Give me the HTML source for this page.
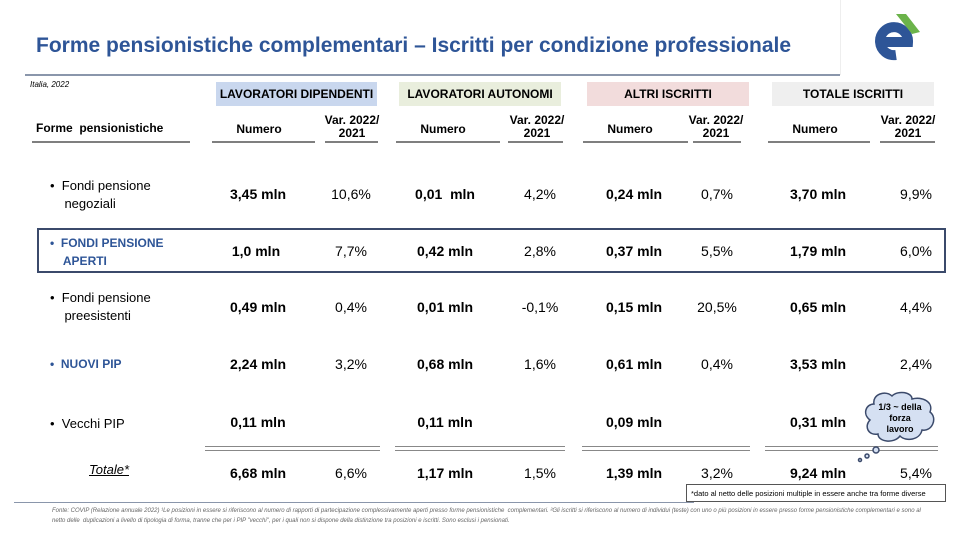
<!DOCTYPE html>
<html><head><meta charset="utf-8"><style>
*{margin:0;padding:0;box-sizing:border-box}
body{width:960px;height:540px;background:#fff;position:relative;overflow:hidden;font-family:"Liberation Sans",sans-serif;color:#000}
.a{position:absolute;white-space:nowrap}
.c{transform:translateX(-50%);text-align:center}
.h{font-weight:bold;font-size:12px;padding-top:5px;height:24px}
.sub{font-weight:bold;font-size:12px}
.ul{position:absolute;height:2px;background:#7f7f7f}
.b{font-weight:bold;font-size:14px}
.n{font-size:14px}
.lab{font-size:13px;line-height:18px}
.dl{position:absolute;height:5px;border-top:1.5px solid #888;border-bottom:1.5px solid #888}
</style></head><body>
<div class="a" style="left:36px;top:34px;font-size:21px;font-weight:bold;color:#2e5597">Forme pensionistiche complementari – Iscritti per condizione professionale</div>
<div class="a" style="left:25px;top:74px;width:815px;height:2px;background:#8a96ab"></div>
<div class="a" style="left:840px;top:0;width:1px;height:75px;background:#eee"></div>
<svg class="a" style="left:862px;top:10px" width="70" height="60" viewBox="0 0 70 60">
<path d="M34 45 A 14 14 0 1 1 46 32 L20 32" fill="none" stroke="#2e5597" stroke-width="10"/>
<polygon points="34,4 44,4 58,22 50,24" fill="#6bb34a"/>
</svg>
<div class="a" style="left:30px;top:80px;font-size:8px;font-style:italic">Italia, 2022</div>
<div class="a h" style="left:216px;top:82px;width:161px;background:#c9d7ee;text-align:center">LAVORATORI DIPENDENTI</div>
<div class="a h" style="left:399px;top:82px;width:162px;background:#e9eedd;text-align:center">LAVORATORI AUTONOMI</div>
<div class="a h" style="left:587px;top:82px;width:162px;background:#f2dcdc;text-align:center">ALTRI ISCRITTI</div>
<div class="a h" style="left:772px;top:82px;width:162px;background:#efefef;text-align:center">TOTALE ISCRITTI</div>

<div class="a sub" style="left:36px;top:121px">Forme&nbsp; pensionistiche</div>
<div class="ul" style="left:32px;top:141px;width:158px"></div>
<div class="a sub c" style="left:259px;top:122px">Numero</div><div class="ul" style="left:212px;top:141px;width:103px"></div>
<div class="a sub c" style="left:352px;top:114px;line-height:13px">Var. 2022/<br>2021</div><div class="ul" style="left:325px;top:141px;width:53px"></div>
<div class="a sub c" style="left:443px;top:122px">Numero</div><div class="ul" style="left:396px;top:141px;width:104px"></div>
<div class="a sub c" style="left:537px;top:114px;line-height:13px">Var. 2022/<br>2021</div><div class="ul" style="left:508px;top:141px;width:55px"></div>
<div class="a sub c" style="left:630px;top:122px">Numero</div><div class="ul" style="left:583px;top:141px;width:105px"></div>
<div class="a sub c" style="left:716px;top:114px;line-height:13px">Var. 2022/<br>2021</div><div class="ul" style="left:693px;top:141px;width:48px"></div>
<div class="a sub c" style="left:815px;top:122px">Numero</div><div class="ul" style="left:768px;top:141px;width:102px"></div>
<div class="a sub c" style="left:908px;top:114px;line-height:13px">Var. 2022/<br>2021</div><div class="ul" style="left:880px;top:141px;width:55px"></div>

<div class="a" style="left:37px;top:228px;width:909px;height:45px;border:2px solid #3b4a6b"></div>

<div class="a lab" style="left:50px;top:177px">•&nbsp; Fondi pensione<br>&nbsp;&nbsp;&nbsp; negoziali</div>
<div class="a lab" style="left:50px;top:234px;font-weight:bold;color:#2e5597;font-size:12px">•&nbsp; FONDI PENSIONE<br>&nbsp;&nbsp;&nbsp; APERTI</div>
<div class="a lab" style="left:50px;top:289px">•&nbsp; Fondi pensione<br>&nbsp;&nbsp;&nbsp; preesistenti</div>
<div class="a lab" style="left:50px;top:355px;font-weight:bold;color:#2e5597;font-size:12px">•&nbsp; NUOVI PIP</div>
<div class="a lab" style="left:50px;top:415px">•&nbsp; Vecchi PIP</div>
<div class="a" style="left:89px;top:462px;font-size:13px;font-style:italic;text-decoration:underline">Totale*</div>

<div class="a b c" style="left:258px;top:186px">3,45 mln</div><div class="a n c" style="left:351px;top:186px">10,6%</div>
<div class="a b c" style="left:445px;top:186px">0,01&nbsp; mln</div><div class="a n c" style="left:540px;top:186px">4,2%</div>
<div class="a b c" style="left:634px;top:186px">0,24 mln</div><div class="a n c" style="left:717px;top:186px">0,7%</div>
<div class="a b c" style="left:818px;top:186px">3,70 mln</div><div class="a n c" style="left:916px;top:186px">9,9%</div>

<div class="a b c" style="left:256px;top:243px">1,0 mln</div><div class="a n c" style="left:351px;top:243px">7,7%</div>
<div class="a b c" style="left:445px;top:243px">0,42 mln</div><div class="a n c" style="left:540px;top:243px">2,8%</div>
<div class="a b c" style="left:634px;top:243px">0,37 mln</div><div class="a n c" style="left:717px;top:243px">5,5%</div>
<div class="a b c" style="left:818px;top:243px">1,79 mln</div><div class="a n c" style="left:916px;top:243px">6,0%</div>

<div class="a b c" style="left:258px;top:299px">0,49 mln</div><div class="a n c" style="left:351px;top:299px">0,4%</div>
<div class="a b c" style="left:445px;top:299px">0,01 mln</div><div class="a n c" style="left:540px;top:299px">-0,1%</div>
<div class="a b c" style="left:634px;top:299px">0,15 mln</div><div class="a n c" style="left:717px;top:299px">20,5%</div>
<div class="a b c" style="left:818px;top:299px">0,65 mln</div><div class="a n c" style="left:916px;top:299px">4,4%</div>

<div class="a b c" style="left:258px;top:356px">2,24 mln</div><div class="a n c" style="left:351px;top:356px">3,2%</div>
<div class="a b c" style="left:445px;top:356px">0,68 mln</div><div class="a n c" style="left:540px;top:356px">1,6%</div>
<div class="a b c" style="left:634px;top:356px">0,61 mln</div><div class="a n c" style="left:717px;top:356px">0,4%</div>
<div class="a b c" style="left:818px;top:356px">3,53 mln</div><div class="a n c" style="left:916px;top:356px">2,4%</div>

<div class="a b c" style="left:258px;top:414px">0,11 mln</div>
<div class="a b c" style="left:445px;top:414px">0,11 mln</div>
<div class="a b c" style="left:634px;top:414px">0,09 mln</div>
<div class="a b c" style="left:818px;top:414px">0,31 mln</div>

<div class="dl" style="left:205px;top:446px;width:175px"></div>
<div class="dl" style="left:395px;top:446px;width:170px"></div>
<div class="dl" style="left:582px;top:446px;width:168px"></div>
<div class="dl" style="left:765px;top:446px;width:173px"></div>

<div class="a b c" style="left:258px;top:465px">6,68 mln</div><div class="a n c" style="left:351px;top:465px">6,6%</div>
<div class="a b c" style="left:445px;top:465px">1,17 mln</div><div class="a n c" style="left:540px;top:465px">1,5%</div>
<div class="a b c" style="left:634px;top:465px">1,39 mln</div><div class="a n c" style="left:717px;top:465px">3,2%</div>
<div class="a b c" style="left:818px;top:465px">9,24 mln</div><div class="a n c" style="left:916px;top:465px">5,4%</div>

<svg class="a" style="left:840px;top:390px" width="100" height="75" viewBox="0 0 100 75">
<g fill="#d5e0f2" stroke="#3b4a6b" stroke-width="1.5">
<path d="M34 14 C32 4 46 0 52 6 C58 0 72 2 72 9 C82 6 94 12 90 22 C98 28 92 42 82 40 C80 50 66 52 60 46 C54 54 38 52 38 44 C28 46 24 36 30 30 C22 24 26 14 34 14 Z"/>
<circle cx="36" cy="60" r="3"/><circle cx="27" cy="66" r="2"/><circle cx="20" cy="70" r="1.5"/>
</g>
<text x="60" y="20" font-family="Liberation Sans" font-size="9" font-weight="bold" text-anchor="middle">1/3 ~ della</text>
<text x="60" y="31" font-family="Liberation Sans" font-size="9" font-weight="bold" text-anchor="middle">forza</text>
<text x="60" y="42" font-family="Liberation Sans" font-size="9" font-weight="bold" text-anchor="middle">lavoro</text>
</svg>

<div class="a" style="left:686px;top:484px;width:260px;height:18px;border:1px solid #555;font-size:7.5px;padding:4px 0 0 4px">*dato al netto delle posizioni multiple in essere anche tra forme diverse</div>
<div class="a" style="left:14px;top:502px;width:680px;height:1px;background:#8a96ab"></div>
<div class="a" style="left:52px;top:506px;font-size:6px;font-style:italic;color:#666;line-height:10px;white-space:normal;width:880px">Fonte: COVIP (Relazione annuale 2022) ¹Le posizioni in essere si riferiscono al numero di rapporti di partecipazione complessivamente aperti presso forme pensionistiche&nbsp; complementari. ²Gli iscritti si riferiscono al numero di individui (teste) con uno o più posizioni in essere presso forme pensionistiche complementari e sono al netto delle&nbsp; duplicazioni a livello di tipologia di forma, tranne che per i PIP "vecchi", per i quali non si dispone della distinzione tra posizioni e iscritti. Sono esclusi i pensionati.</div>
</body></html>
